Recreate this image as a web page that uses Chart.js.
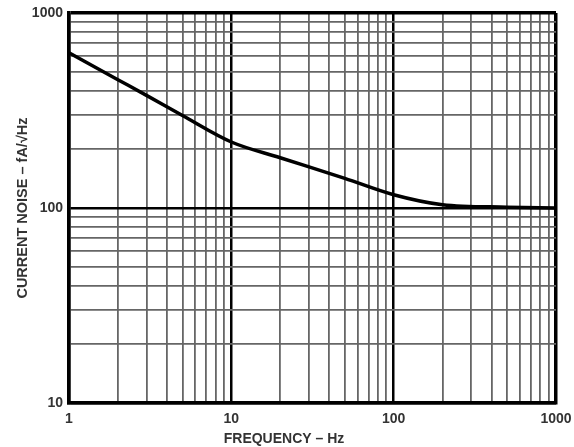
<!DOCTYPE html>
<html>
<head>
<meta charset="utf-8">
<script src="https://cdn.jsdelivr.net/npm/chart.js@4"></script>
<style>
  html, body { margin: 0; padding: 0; background: #fff; }
  #wrap { width: 574px; height: 447px; }
</style>
</head>
<body>
<div id="wrap"><canvas id="noiseChart" width="574" height="447"></canvas></div>
<script>
// frequency (Hz) vs current noise (fA/rtHz)
const freqs = [1, 2, 3, 5, 10, 20, 50, 100, 200, 500, 1000];
const noise = [625, 455, 378, 298, 218, 181, 142, 117, 104, 101, 100];

const xTicks = [1, 2, 3, 4, 5, 6, 7, 8, 9, 10, 20, 30, 40, 50, 60, 70, 80, 90, 100, 200, 300, 400, 500, 600, 700, 800, 900, 1000];
const yTicks = [10, 20, 30, 40, 50, 60, 70, 80, 90, 100, 200, 300, 400, 500, 600, 700, 800, 900, 1000];
const xLabels = [1, 10, 100, 1000];
const yLabels = [10, 100, 1000];

const isDecade = v => Math.abs(Math.log10(v) - Math.round(Math.log10(v))) < 1e-9;
const font = { family: '"Liberation Sans", Arial, sans-serif', size: 14, weight: 'bold' };

const xTitle = {
  id: 'xTitle',
  afterDraw(chart) {
    const ctx = chart.ctx;
    ctx.save();
    ctx.font = 'bold 14px "Liberation Sans", Arial, sans-serif';
    ctx.fillStyle = '#333';
    ctx.textAlign = 'center';
    ctx.textBaseline = 'middle';
    ctx.fillText('FREQUENCY – Hz', 284, 439);
    ctx.restore();
  }
};

new Chart(document.getElementById('noiseChart'), {
  type: 'line',
  data: {
    datasets: [{
      data: freqs.map((f, i) => ({ x: f, y: noise[i] })),
      borderColor: '#000',
      borderWidth: 3.5,
      pointRadius: 0,
      cubicInterpolationMode: 'monotone',
      fill: false
    }]
  },
  options: {
    responsive: false,
    animation: false,
    layout: { padding: { top: 13, right: 18, left: 0, bottom: 0 } },
    plugins: { legend: { display: false }, tooltip: { enabled: false } },
    scales: {
      x: {
        type: 'logarithmic',
        min: 1,
        max: 1000,
        afterBuildTicks: s => { s.ticks = xTicks.map(v => ({ value: v })); },
        afterFit: s => { s.height = 44; s.paddingLeft = 0; s.paddingRight = 0; },
        ticks: {
          autoSkip: false,
          maxRotation: 0,
          padding: 8,
          color: '#333',
          font: font,
          callback: v => xLabels.includes(v) ? String(v) : ''
        },
        grid: {
          drawTicks: false,
          color: c => isDecade(c.tick.value) ? '#000' : '#666',
          lineWidth: c => (c.tick.value === 1 || c.tick.value === 1000) ? 3.5 : (isDecade(c.tick.value) ? 2.5 : 1.8)
        },
        border: { color: '#000', width: 3.5 }
      },
      y: {
        type: 'logarithmic',
        min: 10,
        max: 1000,
        afterBuildTicks: s => { s.ticks = yTicks.map(v => ({ value: v })); },
        afterFit: s => { s.width = 69; s.paddingTop = 0; s.paddingBottom = 0; },
        ticks: {
          autoSkip: false,
          padding: 6,
          color: '#333',
          font: font,
          callback: v => yLabels.includes(v) ? String(v) : ''
        },
        grid: {
          drawTicks: false,
          color: c => isDecade(c.tick.value) ? '#000' : '#666',
          lineWidth: c => (c.tick.value === 10 || c.tick.value === 1000) ? 3.5 : (isDecade(c.tick.value) ? 2.5 : 1.8)
        },
        border: { color: '#000', width: 3.5 },
        title: {
          display: true,
          text: 'CURRENT NOISE – fA/√Hz',
          color: '#333',
          font: { family: '"Liberation Sans", Arial, sans-serif', size: 14.5, weight: 'bold' },
          padding: { top: 14, bottom: 0 }
        }
      }
    }
  },
  plugins: [xTitle]
});
</script>
</body>
</html>
